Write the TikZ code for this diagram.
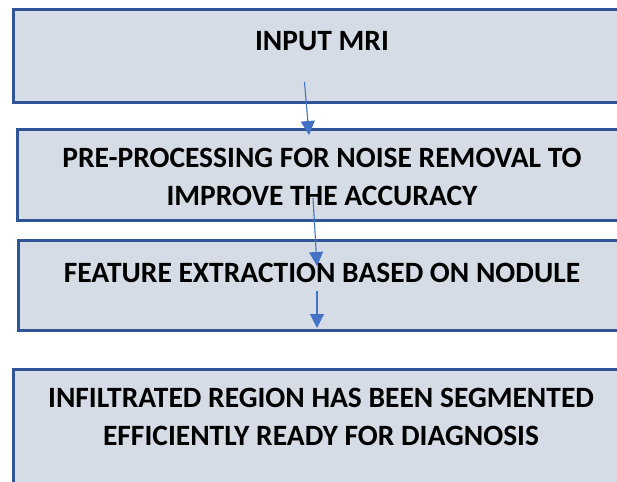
\documentclass[tikz,border=0pt]{standalone}
\usepackage{fontspec}
\setmainfont{Carlito}
\usetikzlibrary{arrows.meta}
\definecolor{boxfill}{HTML}{D6DCE5}
\definecolor{boxline}{HTML}{2F5597}
\definecolor{arrowblue}{HTML}{4472C4}
\tikzset{
  flowbox/.style={draw=boxline, line width=2.6pt, fill=boxfill, rectangle, anchor=north west, inner sep=0pt},
  label/.style={anchor=base, font=\fontsize{29.5}{34}\selectfont\bfseries, inner sep=0pt},
  flowarrow/.style={draw=arrowblue, line width=1.1pt, -{Triangle[length=14pt,width=14pt]}, shorten >=0pt}
}
\begin{document}
\begin{tikzpicture}[x=1pt,y=-1pt]
\useasboundingbox (0,0) rectangle (617,481);
\begin{scope}
\clip (0,0) rectangle (617,481);
\node[flowbox, minimum width=620pt, minimum height=93pt] (box1) at (12,8) {};
\node[flowbox, minimum width=612pt, minimum height=91pt] (box2) at (16,128) {};
\node[flowbox, minimum width=610pt, minimum height=90pt] (box3) at (17,239) {};
\node[flowbox, minimum width=620pt, minimum height=130pt] (box4) at (12,368) {};
\end{scope}
\node[label] (t1) at (322,51) {INPUT MRI};
\node[label] (t2a) at (322,167) {PRE-PROCESSING FOR NOISE REMOVAL TO};
\node[label] (t2b) at (322,205) {IMPROVE THE ACCURACY};
\node[label] (t3) at (322,282) {FEATURE EXTRACTION BASED ON NODULE};
\node[label] (t4a) at (321,407) {INFILTRATED REGION HAS BEEN SEGMENTED};
\node[label] (t4b) at (321,445) {EFFICIENTLY READY FOR DIAGNOSIS};
\coordinate (a1s) at (304.5,82);
\coordinate (a1e) at (309,135);
\coordinate (a2s) at (313,198);
\coordinate (a2e) at (317,266);
\coordinate (a3s) at (317,291);
\coordinate (a3e) at (317,328);
\draw[flowarrow] (a1s) -- (a1e);
\draw[flowarrow] (a2s) -- (a2e);
\draw[flowarrow] (a3s) -- (a3e);
\end{tikzpicture}
\end{document}
